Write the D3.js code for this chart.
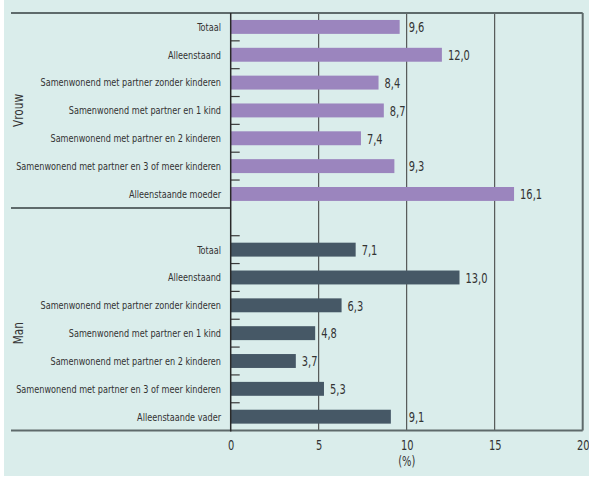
<!DOCTYPE html>
<html>
<head>
<meta charset="utf-8">
<script src="https://cdn.jsdelivr.net/npm/d3@7"></script>
<style>
  html, body { margin: 0; padding: 0; background: #ffffff; }
  svg { display: block; }
  text { font-family: "DejaVu Sans Condensed", "Liberation Sans Narrow", sans-serif; fill: #333; }
</style>
</head>
<body>
<svg id="chart" width="589" height="477"></svg>
<script>
// ---- data ----
const groups = ["Vrouw", "Man"];
const vrouwCategories = [
  "Totaal",
  "Alleenstaand",
  "Samenwonend met partner zonder kinderen",
  "Samenwonend met partner en 1 kind",
  "Samenwonend met partner en 2 kinderen",
  "Samenwonend met partner en 3 of meer kinderen",
  "Alleenstaande moeder"
];
const vrouwValues = [9.6, 12.0, 8.4, 8.7, 7.4, 9.3, 16.1];
const manCategories = [
  "Totaal",
  "Alleenstaand",
  "Samenwonend met partner zonder kinderen",
  "Samenwonend met partner en 1 kind",
  "Samenwonend met partner en 2 kinderen",
  "Samenwonend met partner en 3 of meer kinderen",
  "Alleenstaande vader"
];
const manValues = [7.1, 13.0, 6.3, 4.8, 3.7, 5.3, 9.1];
const xTicks = [0, 5, 10, 15, 20];
const xAxisTitle = "(%)";

// ---- layout ----
const svg = d3.select("#chart");
const W = 589, H = 477;
const pLeft = 230.7, pRight = 582.7, pTop = 13, pBottom = 430.6, lineLeft = 11;

svg.append("rect").attr("x", 4).attr("y", 0).attr("width", W - 4).attr("height", H - 1).attr("fill", "#daedeb");

// horizontal squeeze factor to mimic a condensed face
function squeeze(fontSize, sample, target) {
  const t = svg.append("text").attr("font-size", fontSize).text(sample);
  const w = t.node().getComputedTextLength();
  t.remove();
  return w > 0 ? target / w : 1;
}
const kCat = squeeze(10.8, "Samenwonend met partner en 3 of meer kinderen", 205);
const kVal = squeeze(14.5, "13,0", 22);
const kGrp = squeeze(14.5, "Vrouw", 33);

// rows: vrouw (7), gap slot, man (7)
const rows = [];
vrouwCategories.forEach((c, i) => rows.push({ key: "v" + i, group: "Vrouw", label: c, value: vrouwValues[i] }));
rows.push({ key: "gap", group: null });
manCategories.forEach((c, i) => rows.push({ key: "m" + i, group: "Man", label: c, value: manValues[i] }));

const x = d3.scaleLinear().domain([0, 20]).range([pLeft, pRight]);
const y = d3.scaleBand().domain(rows.map(r => r.key)).range([pTop, pBottom]).paddingInner(0.5).paddingOuter(0.25);
const step = y.step();

const colors = { Vrouw: "#9b85be", Man: "#465866" };
const gridVals = xTicks.filter(t => t > 0 && t < 20);

// vertical gridlines
svg.append("g").selectAll("line").data(gridVals).join("line")
  .attr("x1", d => x(d)).attr("x2", d => x(d))
  .attr("y1", pTop).attr("y2", pBottom)
  .attr("stroke", "#3a3a3a").attr("stroke-width", 1);

// bars
const dataRows = rows.filter(r => r.group);
svg.append("g").selectAll("rect").data(dataRows).join("rect")
  .attr("x", x(0))
  .attr("y", d => y(d.key))
  .attr("width", d => x(d.value) - x(0))
  .attr("height", y.bandwidth())
  .attr("fill", d => colors[d.group]);

// value labels (pushed past a gridline when they would sit on it)
const fmt = v => d3.format(".1f")(v).replace(".", ",");
const valW = squeeze(14.5, "13,0", 22) * 0 + 16; // approx width of a 3-char label
function labelX(v) {
  let sx = x(v) + 6;
  const w = fmt(v).length > 3 ? 22 : 16;
  gridVals.forEach(g => {
    const gx = x(g);
    if (sx < gx + 1 && sx + w > gx + 2 && sx + w - gx > 1) sx = gx + 2;
  });
  return sx;
}
svg.append("g").selectAll("text").data(dataRows).join("text")
  .attr("transform", d => `translate(${labelX(d.value)},${y(d.key) + y.bandwidth() / 2}) scale(${kVal},1)`)
  .attr("dy", "0.36em")
  .attr("font-size", 14.5)
  .text(d => fmt(d.value));

// category labels
svg.append("g").selectAll("text").data(dataRows).join("text")
  .attr("transform", d => `translate(221,${y(d.key) + y.bandwidth() / 2}) scale(${kCat},1)`)
  .attr("dy", "0.36em")
  .attr("text-anchor", "end")
  .attr("font-size", 10.8)
  .text(d => d.label);

// small ticks at band boundaries
const tickIdx = rows.map((r, i) => i).filter(i => i > 0 && i !== 7);
svg.append("g").selectAll("line").data(tickIdx).join("line")
  .attr("x1", x(0)).attr("x2", x(0) + 9)
  .attr("y1", i => pTop + i * step).attr("y2", i => pTop + i * step)
  .attr("stroke", "#3a3a3a").attr("stroke-width", 1.2);

// frame lines
const frame = svg.append("g").attr("stroke", "#5e6a6b").attr("stroke-width", 2).attr("fill", "none");
frame.append("line").attr("x1", lineLeft).attr("x2", pRight).attr("y1", pTop).attr("y2", pTop);
frame.append("line").attr("x1", lineLeft).attr("x2", pRight).attr("y1", pBottom).attr("y2", pBottom);
frame.append("line").attr("x1", lineLeft).attr("x2", x(0)).attr("y1", pTop + 7 * step).attr("y2", pTop + 7 * step);
frame.append("line").attr("x1", pRight).attr("x2", pRight).attr("y1", pTop).attr("y2", pBottom);
svg.append("line").attr("x1", x(0)).attr("x2", x(0)).attr("y1", pTop).attr("y2", pBottom + 1)
  .attr("stroke", "#2a2a2a").attr("stroke-width", 1.5);

// x axis labels
const xAxis = d3.axisBottom(x).tickValues(xTicks).tickSize(0).tickPadding(0).tickFormat(d3.format("d"));
const gAxis = svg.append("g").attr("transform", `translate(0,${pBottom})`).call(xAxis);
gAxis.select(".domain").remove();
gAxis.selectAll("text").attr("font-size", 14.5).attr("fill", "#333")
  .attr("font-family", null)
  .attr("y", null).attr("dy", null)
  .attr("transform", `translate(0,19) scale(${kVal},1)`);

svg.append("text")
  .attr("transform", `translate(${x(10)},466) scale(${kVal},1)`)
  .attr("text-anchor", "middle")
  .attr("font-size", 14.5).text(xAxisTitle);

// group labels
groups.forEach((g, gi) => {
  const start = gi === 0 ? 0 : 8;
  const cy = pTop + (start + 3.5) * step;
  svg.append("text")
    .attr("transform", `translate(23,${cy}) rotate(-90) scale(${kGrp},1)`)
    .attr("text-anchor", "middle")
    .attr("font-size", 14.5)
    .text(g);
});
</script>
</body>
</html>
